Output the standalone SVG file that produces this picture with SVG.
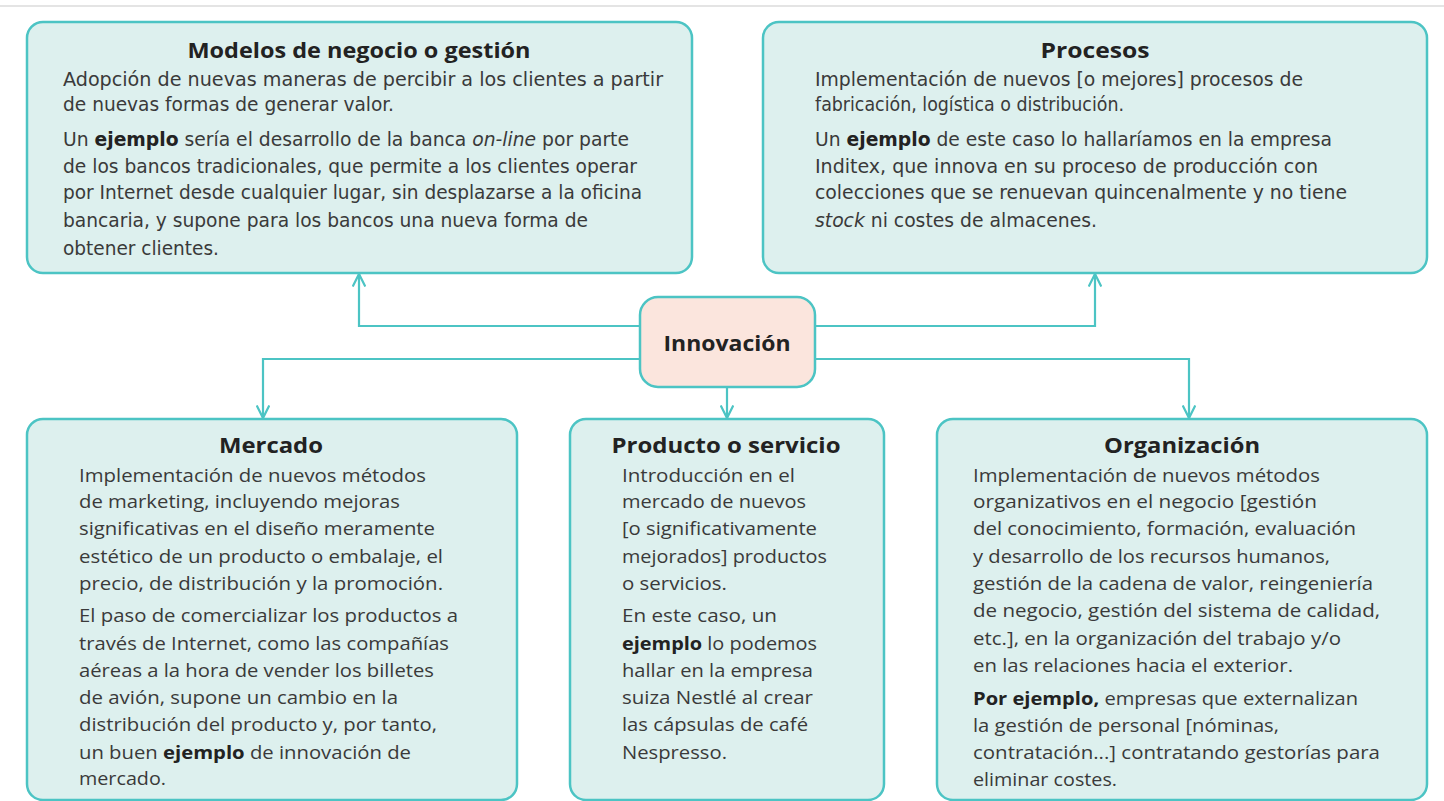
<svg xmlns="http://www.w3.org/2000/svg" width="1444" height="801" viewBox="0 0 1444 801">
<style>
.box{fill:#ddf0ee;stroke:#4cc4c4;stroke-width:2.5}
.core{fill:#fbe5dd;stroke:#4cc4c4;stroke-width:2.5}
.ttl{font-family:"Open Sans","Liberation Sans",sans-serif;font-weight:bold;font-size:22px;fill:#222;text-anchor:middle}
.tc{font-family:"DejaVu Sans Condensed","DejaVu Sans","Liberation Sans",sans-serif;font-size:20px;fill:#3a3a3a}
.tb{font-family:"Open Sans","Noto Sans","Liberation Sans",sans-serif;font-size:18px;fill:#3a3a3a}
.b{font-weight:bold;fill:#222}
.i{font-style:italic}
.con{fill:none;stroke:#4cc4c4;stroke-width:2.2}
</style>
<defs>
<marker id="arr" viewBox="0 0 10 10" refX="10" refY="5" markerWidth="14" markerHeight="14" markerUnits="userSpaceOnUse" orient="auto">
<path d="M1,0.5 L10,5 L1,9.5" fill="none" stroke="#4cc4c4" stroke-width="1.6"/>
</marker>
</defs>
<rect x="0" y="0" width="1444" height="801" fill="#ffffff"/>
<line x1="0" y1="6" x2="1444" y2="6" stroke="#e4e4e4" stroke-width="2"/>

<g id="connectors">
<path class="con" d="M640,326 H359 V274" marker-end="url(#arr)"/>
<path class="con" d="M815,326 H1095 V274" marker-end="url(#arr)"/>
<path class="con" d="M640,359 H263 V418" marker-end="url(#arr)"/>
<path class="con" d="M815,359 H1189 V418" marker-end="url(#arr)"/>
<path class="con" d="M727,387 V418" marker-end="url(#arr)"/>
</g>

<g id="modelos">
<rect class="box" x="27" y="22" width="665" height="251" rx="16"/>
<text class="ttl" x="359" y="58" textLength="343" lengthAdjust="spacingAndGlyphs">Modelos de negocio o gestión</text>
<text class="tc" x="63" y="86" textLength="600" lengthAdjust="spacingAndGlyphs">Adopción de nuevas maneras de percibir a los clientes a partir</text>
<text class="tc" x="63" y="111" textLength="331" lengthAdjust="spacingAndGlyphs">de nuevas formas de generar valor.</text>
<text class="tc" x="63" y="146" textLength="566" lengthAdjust="spacingAndGlyphs">Un <tspan class="b">ejemplo</tspan> sería el desarrollo de la banca <tspan class="i">on-line</tspan> por parte</text>
<text class="tc" x="63" y="173" textLength="574" lengthAdjust="spacingAndGlyphs">de los bancos tradicionales, que permite a los clientes operar</text>
<text class="tc" x="63" y="199" textLength="579" lengthAdjust="spacingAndGlyphs">por Internet desde cualquier lugar, sin desplazarse a la oficina</text>
<text class="tc" x="63" y="227" textLength="525" lengthAdjust="spacingAndGlyphs">bancaria, y supone para los bancos una nueva forma de</text>
<text class="tc" x="63" y="255" textLength="156" lengthAdjust="spacingAndGlyphs">obtener clientes.</text>
</g>

<g id="procesos">
<rect class="box" x="763" y="22" width="664" height="251" rx="16"/>
<text class="ttl" x="1095" y="58" textLength="109" lengthAdjust="spacingAndGlyphs">Procesos</text>
<text class="tc" x="815" y="86" textLength="488" lengthAdjust="spacingAndGlyphs">Implementación de nuevos [o mejores] procesos de</text>
<text class="tc" x="815" y="111" textLength="309" lengthAdjust="spacingAndGlyphs">fabricación, logística o distribución.</text>
<text class="tc" x="815" y="146" textLength="517" lengthAdjust="spacingAndGlyphs">Un <tspan class="b">ejemplo</tspan> de este caso lo hallaríamos en la empresa</text>
<text class="tc" x="815" y="173" textLength="503" lengthAdjust="spacingAndGlyphs">Inditex, que innova en su proceso de producción con</text>
<text class="tc" x="815" y="199" textLength="532" lengthAdjust="spacingAndGlyphs">colecciones que se renuevan quincenalmente y no tiene</text>
<text class="tc" x="815" y="227" textLength="282" lengthAdjust="spacingAndGlyphs"><tspan class="i">stock</tspan> ni costes de almacenes.</text>
</g>

<g id="innovacion">
<rect class="core" x="640" y="297" width="175" height="90" rx="18"/>
<text class="ttl" x="727" y="351" textLength="127" lengthAdjust="spacingAndGlyphs">Innovación</text>
</g>

<g id="mercado">
<rect class="box" x="27" y="419" width="490" height="381" rx="16"/>
<text class="ttl" x="271" y="453" textLength="104" lengthAdjust="spacingAndGlyphs">Mercado</text>
<text class="tb" x="79" y="482" textLength="347" lengthAdjust="spacingAndGlyphs">Implementación de nuevos métodos</text>
<text class="tb" x="79" y="508" textLength="321" lengthAdjust="spacingAndGlyphs">de marketing, incluyendo mejoras</text>
<text class="tb" x="79" y="535" textLength="356" lengthAdjust="spacingAndGlyphs">significativas en el diseño meramente</text>
<text class="tb" x="79" y="563" textLength="364" lengthAdjust="spacingAndGlyphs">estético de un producto o embalaje, el</text>
<text class="tb" x="79" y="590" textLength="364" lengthAdjust="spacingAndGlyphs">precio, de distribución y la promoción.</text>
<text class="tb" x="79" y="622" textLength="379" lengthAdjust="spacingAndGlyphs">El paso de comercializar los productos a</text>
<text class="tb" x="79" y="650" textLength="370" lengthAdjust="spacingAndGlyphs">través de Internet, como las compañías</text>
<text class="tb" x="79" y="677" textLength="355" lengthAdjust="spacingAndGlyphs">aéreas a la hora de vender los billetes</text>
<text class="tb" x="79" y="704" textLength="319" lengthAdjust="spacingAndGlyphs">de avión, supone un cambio en la</text>
<text class="tb" x="79" y="731" textLength="358" lengthAdjust="spacingAndGlyphs">distribución del producto y, por tanto,</text>
<text class="tb" x="79" y="759" textLength="332" lengthAdjust="spacingAndGlyphs">un buen <tspan class="b">ejemplo</tspan> de innovación de</text>
<text class="tb" x="79" y="785" textLength="87" lengthAdjust="spacingAndGlyphs">mercado.</text>
</g>

<g id="producto">
<rect class="box" x="570" y="419" width="314" height="381" rx="16"/>
<text class="ttl" x="726" y="453" textLength="229" lengthAdjust="spacingAndGlyphs">Producto o servicio</text>
<text class="tb" x="622" y="482" textLength="173" lengthAdjust="spacingAndGlyphs">Introducción en el</text>
<text class="tb" x="622" y="508" textLength="184" lengthAdjust="spacingAndGlyphs">mercado de nuevos</text>
<text class="tb" x="622" y="535" textLength="195" lengthAdjust="spacingAndGlyphs">[o significativamente</text>
<text class="tb" x="622" y="563" textLength="205" lengthAdjust="spacingAndGlyphs">mejorados] productos</text>
<text class="tb" x="622" y="590" textLength="105" lengthAdjust="spacingAndGlyphs">o servicios.</text>
<text class="tb" x="622" y="622" textLength="155" lengthAdjust="spacingAndGlyphs">En este caso, un</text>
<text class="tb" x="622" y="650" textLength="195" lengthAdjust="spacingAndGlyphs"><tspan class="b">ejemplo</tspan> lo podemos</text>
<text class="tb" x="622" y="677" textLength="191" lengthAdjust="spacingAndGlyphs">hallar en la empresa</text>
<text class="tb" x="622" y="704" textLength="191" lengthAdjust="spacingAndGlyphs">suiza Nestlé al crear</text>
<text class="tb" x="622" y="731" textLength="186" lengthAdjust="spacingAndGlyphs">las cápsulas de café</text>
<text class="tb" x="622" y="759" textLength="105" lengthAdjust="spacingAndGlyphs">Nespresso.</text>
</g>

<g id="organizacion">
<rect class="box" x="937" y="419" width="490" height="381" rx="16"/>
<text class="ttl" x="1182" y="453" textLength="156" lengthAdjust="spacingAndGlyphs">Organización</text>
<text class="tb" x="973" y="482" textLength="347" lengthAdjust="spacingAndGlyphs">Implementación de nuevos métodos</text>
<text class="tb" x="973" y="508" textLength="344" lengthAdjust="spacingAndGlyphs">organizativos en el negocio [gestión</text>
<text class="tb" x="973" y="535" textLength="383" lengthAdjust="spacingAndGlyphs">del conocimiento, formación, evaluación</text>
<text class="tb" x="973" y="563" textLength="357" lengthAdjust="spacingAndGlyphs">y desarrollo de los recursos humanos,</text>
<text class="tb" x="973" y="590" textLength="400" lengthAdjust="spacingAndGlyphs">gestión de la cadena de valor, reingeniería</text>
<text class="tb" x="973" y="617" textLength="407" lengthAdjust="spacingAndGlyphs">de negocio, gestión del sistema de calidad,</text>
<text class="tb" x="973" y="645" textLength="368" lengthAdjust="spacingAndGlyphs">etc.], en la organización del trabajo y/o</text>
<text class="tb" x="973" y="672" textLength="320" lengthAdjust="spacingAndGlyphs">en las relaciones hacia el exterior.</text>
<text class="tb" x="973" y="705" textLength="385" lengthAdjust="spacingAndGlyphs"><tspan class="b">Por ejemplo,</tspan> empresas que externalizan</text>
<text class="tb" x="973" y="732" textLength="306" lengthAdjust="spacingAndGlyphs">la gestión de personal [nóminas,</text>
<text class="tb" x="973" y="759" textLength="407" lengthAdjust="spacingAndGlyphs">contratación...] contratando gestorías para</text>
<text class="tb" x="973" y="786" textLength="144" lengthAdjust="spacingAndGlyphs">eliminar costes.</text>
</g>
</svg>
